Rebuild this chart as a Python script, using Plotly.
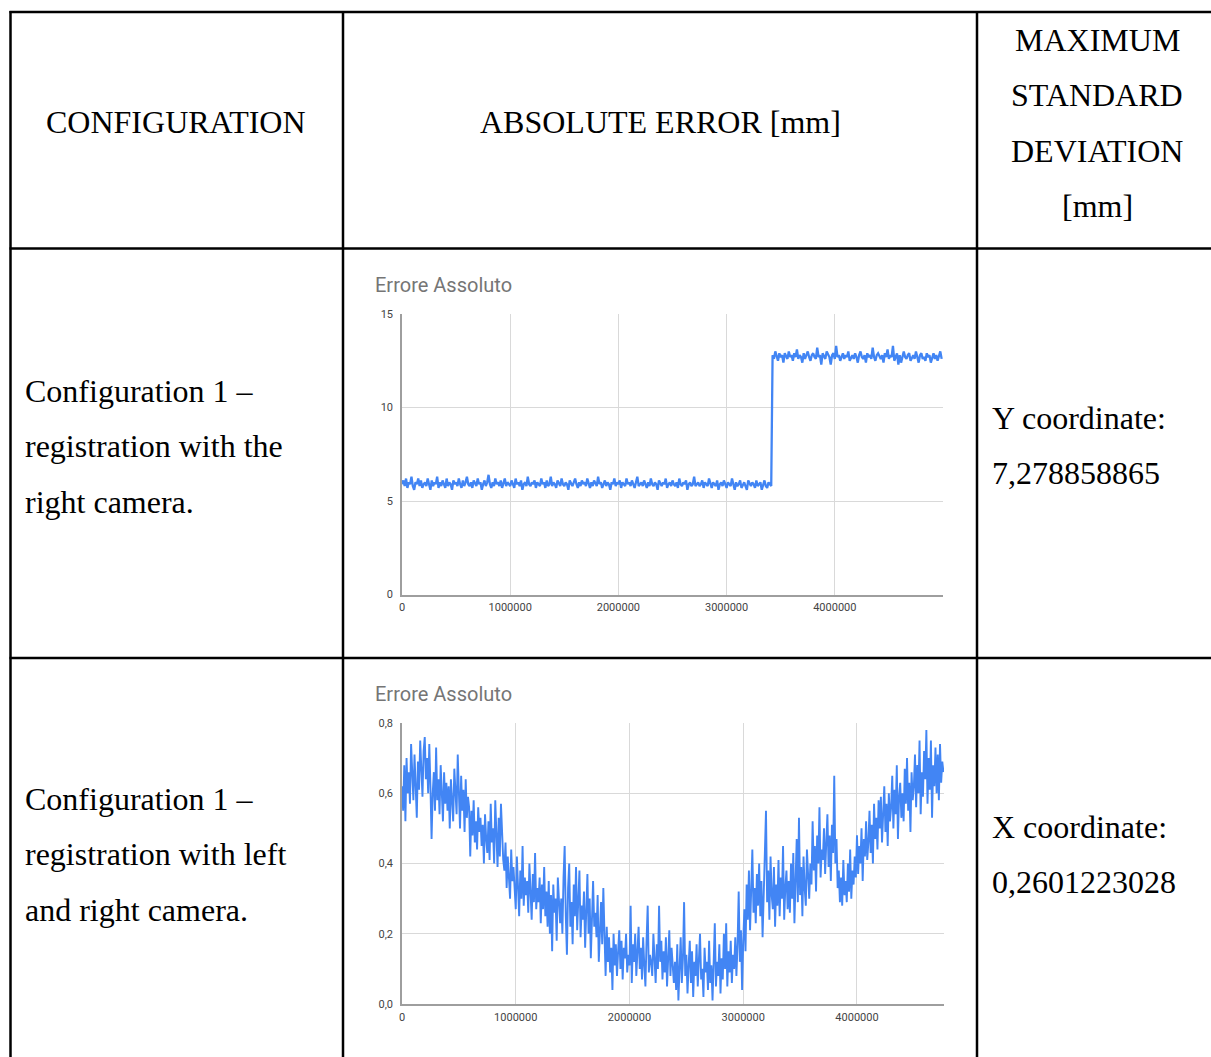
import plotly.graph_objects as go

# ---- page geometry (pixels) ----
W, H = 1211, 1057

def px(x):
    return x / W

def py(y):
    return 1 - y / H

# ---- table text ----
header_config = "CONFIGURATION"
header_error = "ABSOLUTE ERROR [mm]"
header_std = ["MAXIMUM", "STANDARD", "DEVIATION", "[mm]"]
row_labels = [
    ["Configuration 1 –", "registration with the", "right camera."],
    ["Configuration 1 –", "registration with left", "and right camera."],
]
row_std = [
    ["Y coordinate:", "7,278858865"],
    ["X coordinate:", "0,2601223028"],
]
chart_title = "Errore Assoluto"

# ---- chart 1: right camera, absolute error [mm], one sample every 12500 ----
STEP_1 = 12500
err_right = [
    5.9, 6.1, 5.8, 6.2, 5.7, 6.0, 5.9, 6.3, 5.8, 5.6, 6.0, 5.9, 6.2, 5.8, 6.1, 5.7, 5.9, 6.0, 5.8, 6.2,
    5.9, 5.6, 6.1, 5.8, 6.0, 5.9, 6.3, 5.7, 6.0, 5.8, 6.1, 5.9, 5.7, 6.2, 5.8, 6.0, 5.9, 5.6, 6.1, 5.9,
    6.0, 5.8, 6.2, 5.9, 5.7, 6.1, 5.8, 6.0, 6.3, 5.9, 5.8, 6.0, 5.7, 6.1, 5.9, 5.8, 6.2, 5.9, 6.0, 5.6,
    5.9, 6.1, 5.8, 6.0, 6.4, 5.9, 5.7, 6.0, 5.8, 6.2, 5.9, 6.0, 5.8, 6.1, 5.7, 5.9, 6.2, 5.8, 6.0, 5.9,
    5.8, 6.1, 5.9, 5.7, 6.2, 5.9, 6.0, 5.8, 6.1, 5.6, 5.9, 6.0, 5.8, 6.3, 5.9, 5.8, 6.0, 5.9, 6.1, 5.7,
    6.0, 5.9, 5.8, 6.2, 5.9, 6.0, 5.7, 6.1, 5.8, 5.9, 6.3, 5.8, 6.0, 5.9, 5.7, 6.1, 5.9, 5.8, 6.2, 5.9,
    5.8, 6.0, 5.9, 5.6, 6.1, 5.9, 5.8, 6.0, 6.2, 5.9, 5.7, 6.0, 5.8, 6.1, 5.9, 6.0, 5.8, 6.2, 5.9, 5.7,
    6.0, 5.8, 6.1, 5.9, 5.8, 6.3, 5.9, 6.0, 5.7, 5.9, 6.1, 5.8, 6.0, 5.9, 5.6, 6.0, 5.9, 6.2, 5.8, 6.0,
    5.9, 6.1, 5.7, 6.0, 5.9, 5.8, 6.2, 5.9, 6.0, 5.8, 6.1, 5.9, 5.7, 6.0, 6.3, 5.8, 5.9, 6.0, 5.8, 6.1,
    5.9, 5.7, 6.0, 5.8, 6.2, 5.9, 5.8, 6.0, 5.9, 5.6, 6.1, 5.9, 5.8, 6.0, 5.9, 6.2, 5.7, 5.9, 6.0, 5.8,
    6.1, 5.9, 5.8, 6.0, 5.7, 6.2, 5.9, 5.8, 6.0, 5.9, 6.1, 5.6, 5.9, 6.0, 5.8, 5.9, 6.3, 5.8, 5.9, 6.0,
    5.8, 5.9, 6.1, 5.7, 6.0, 5.9, 5.8, 6.2, 5.9, 5.7, 6.0, 5.9, 5.8, 6.1, 5.6, 5.9, 6.0, 5.8, 6.1, 5.9,
    5.7, 6.0, 5.9, 5.8, 6.2, 5.9, 5.6, 6.0, 5.8, 5.9, 6.1, 5.7, 5.9, 6.0, 5.8, 5.6, 6.1, 5.9, 5.8, 6.0,
    5.9, 5.7, 6.1, 5.8, 5.9, 6.0, 5.6, 5.9, 6.1, 5.8, 5.7, 6.0, 5.9, 5.8,
    12.8, 12.6, 13.0, 12.7, 12.5, 12.9, 12.7, 12.8, 12.4, 12.9, 12.7, 12.6, 13.0, 12.7, 12.8, 12.5, 12.9, 12.7, 13.1, 12.6,
    12.8, 12.7, 12.4, 12.9, 12.6, 12.8, 13.0, 12.7, 12.5, 12.8, 12.9, 12.7, 12.6, 13.2, 12.7, 12.8, 12.3, 12.9, 12.7, 12.6,
    13.0, 12.8, 12.7, 12.3, 12.8, 12.9, 12.6, 13.3, 12.7, 12.8, 12.5, 12.7, 12.9, 12.6, 12.8, 12.7, 13.0, 12.5, 12.7, 12.8,
    12.6, 12.9, 12.7, 12.4, 12.8, 13.0, 12.7, 12.6, 12.8, 12.4, 12.9, 12.7, 12.8, 12.6, 13.2, 12.7, 12.5, 12.8, 12.9, 12.7,
    12.6, 12.8, 12.4, 12.9, 12.7, 13.1, 12.6, 12.8, 12.7, 13.3, 12.5, 12.7, 12.9, 12.3, 12.8, 12.4, 12.7, 13.0, 12.7, 12.6,
    12.8, 12.9, 12.5, 12.7, 12.8, 12.6, 13.0, 12.7, 12.4, 12.8, 12.9, 12.6, 12.7, 12.5, 12.9, 12.7, 12.8, 12.4, 12.7, 12.9,
    12.6, 12.8, 12.5, 12.7, 13.0, 12.6,
]
samples_right = [i * STEP_1 for i in range(len(err_right))]
x_ticks_1 = [0, 1000000, 2000000, 3000000, 4000000, 5000000]
x_labels_1 = ["0", "1000000", "2000000", "3000000", "4000000", ""]

# ---- chart 2: left + right camera, absolute error [mm], one sample every 10000 ----
STEP_2 = 10000
err_both = [
    0.62, 0.55, 0.68, 0.52, 0.70, 0.60, 0.66, 0.57, 0.74, 0.63,
    0.58, 0.71, 0.64, 0.53, 0.69, 0.61, 0.75, 0.66, 0.59, 0.72,
    0.76, 0.64, 0.70, 0.60, 0.74, 0.62, 0.47, 0.60, 0.66, 0.55,
    0.73, 0.58, 0.64, 0.54, 0.68, 0.60, 0.52, 0.66, 0.57, 0.63,
    0.55, 0.62, 0.50, 0.64, 0.57, 0.52, 0.67, 0.58, 0.54, 0.71,
    0.60, 0.50, 0.65, 0.55, 0.61, 0.49, 0.64, 0.53, 0.59, 0.56,
    0.42, 0.55, 0.48, 0.58, 0.46, 0.52, 0.44, 0.56, 0.49, 0.53,
    0.45, 0.51, 0.40, 0.54, 0.47, 0.43, 0.52, 0.41, 0.57, 0.46,
    0.50, 0.40, 0.58, 0.44, 0.39, 0.53, 0.42, 0.57, 0.45, 0.41,
    0.38, 0.46, 0.33, 0.42, 0.36, 0.30, 0.44, 0.35, 0.39, 0.31,
    0.27, 0.42, 0.33, 0.25, 0.38, 0.30, 0.45, 0.28, 0.36, 0.31,
    0.35, 0.26, 0.40, 0.30, 0.24, 0.37, 0.29, 0.43, 0.27, 0.33,
    0.29, 0.36, 0.23, 0.34, 0.27, 0.39, 0.25, 0.32, 0.22, 0.35,
    0.20, 0.31, 0.15, 0.34, 0.26, 0.30, 0.18, 0.36, 0.28, 0.23,
    0.30, 0.20, 0.36, 0.45, 0.25, 0.14, 0.33, 0.40, 0.22, 0.29,
    0.17, 0.34, 0.25, 0.39, 0.21, 0.31, 0.38, 0.19, 0.28, 0.24,
    0.32, 0.16, 0.28, 0.37, 0.20, 0.30, 0.13, 0.27, 0.35, 0.22,
    0.26, 0.19, 0.31, 0.12, 0.24, 0.29, 0.17, 0.33, 0.20, 0.08,
    0.22, 0.12, 0.19, 0.09, 0.16, 0.04, 0.20, 0.11, 0.17, 0.08,
    0.15, 0.21, 0.10, 0.18, 0.07, 0.16, 0.13, 0.20, 0.09, 0.14,
    0.11, 0.28, 0.06, 0.17, 0.12, 0.20, 0.08, 0.15, 0.22, 0.10,
    0.16, 0.07, 0.19, 0.11, 0.05, 0.18, 0.28, 0.09, 0.14, 0.12,
    0.08, 0.20, 0.13, 0.06, 0.17, 0.10, 0.28, 0.12, 0.18, 0.07,
    0.15, 0.09, 0.19, 0.05, 0.13, 0.21, 0.08, 0.16, 0.11, 0.06,
    0.12, 0.04, 0.17, 0.01, 0.10, 0.19, 0.06, 0.13, 0.29, 0.08,
    0.14, 0.03, 0.11, 0.18, 0.06, 0.15, 0.02, 0.12, 0.08, 0.17,
    0.05, 0.13, 0.20, 0.07, 0.10, 0.02, 0.16, 0.09, 0.12, 0.04,
    0.18, 0.06, 0.11, 0.01, 0.14, 0.23, 0.05, 0.12, 0.08, 0.17,
    0.03, 0.13, 0.07, 0.20, 0.10, 0.23, 0.05, 0.15, 0.09, 0.18,
    0.06, 0.14, 0.10, 0.19, 0.08, 0.17, 0.32, 0.12, 0.21, 0.04,
    0.18, 0.27, 0.15, 0.34, 0.24, 0.38, 0.21, 0.30, 0.44, 0.26,
    0.33, 0.23, 0.37, 0.28, 0.40, 0.25, 0.35, 0.19, 0.31, 0.36,
    0.55, 0.29, 0.38, 0.24, 0.42, 0.31, 0.27, 0.39, 0.22, 0.34,
    0.28, 0.41, 0.25, 0.36, 0.30, 0.45, 0.24, 0.33, 0.38, 0.27,
    0.35, 0.26, 0.40, 0.30, 0.43, 0.23, 0.34, 0.47, 0.29, 0.53,
    0.31, 0.39, 0.25, 0.42, 0.33, 0.28, 0.44, 0.36, 0.30, 0.40,
    0.34, 0.52, 0.38, 0.45, 0.32, 0.48, 0.40, 0.56, 0.36, 0.44,
    0.41, 0.50, 0.37, 0.46, 0.54, 0.39, 0.48, 0.35, 0.51, 0.43,
    0.65, 0.40, 0.47, 0.33, 0.38, 0.29, 0.36, 0.28, 0.41, 0.31,
    0.35, 0.29, 0.40, 0.32, 0.44, 0.30, 0.38, 0.34, 0.42, 0.36,
    0.48, 0.37, 0.45, 0.40, 0.50, 0.35, 0.47, 0.42, 0.52, 0.41,
    0.46, 0.55, 0.43, 0.51, 0.40, 0.57, 0.47, 0.53, 0.44, 0.58,
    0.50, 0.59, 0.46, 0.54, 0.62, 0.49, 0.57, 0.45, 0.60, 0.52,
    0.56, 0.65, 0.50, 0.61, 0.54, 0.68, 0.47, 0.59, 0.63, 0.53,
    0.60, 0.52, 0.67, 0.57, 0.70, 0.55, 0.63, 0.49, 0.66, 0.58,
    0.62, 0.71, 0.56, 0.68, 0.60, 0.75, 0.54, 0.66, 0.59, 0.72,
    0.64, 0.78, 0.57, 0.70, 0.61, 0.75, 0.53, 0.68, 0.62, 0.73,
    0.60, 0.71, 0.58, 0.74, 0.63, 0.69, 0.66,
]
samples_both = [i * STEP_2 for i in range(len(err_both))]

BLUE = "#4285F4"
GRID = "#d9d9d9"
BASE = "#9e9e9e"
TICK_FONT = dict(family="Roboto, Arial, sans-serif", size=11, color="#444444")
SERIF = "Liberation Serif, Times New Roman, serif"

fig = go.Figure()
fig.add_trace(go.Scatter(x=samples_right, y=err_right, mode="lines",
                         line=dict(color=BLUE, width=2.3), xaxis="x", yaxis="y",
                         showlegend=False, hoverinfo="x+y"))
fig.add_trace(go.Scatter(x=samples_both, y=err_both, mode="lines",
                         line=dict(color=BLUE, width=1.9), xaxis="x2", yaxis="y2",
                         showlegend=False, hoverinfo="x+y"))

common_x = dict(showgrid=True, gridcolor=GRID, gridwidth=1, zeroline=False,
                showline=True, linecolor=BASE, linewidth=1.5, ticklabelstandoff=2,
                tickfont=TICK_FONT, ticks="", fixedrange=True, automargin=False)
common_y = dict(showgrid=True, gridcolor=GRID, gridwidth=1, zeroline=False,
                showline=True, linecolor=BASE, linewidth=1.5, tickfont=TICK_FONT,
                ticklabelstandoff=5, ticks="", fixedrange=True, automargin=False)

fig.update_layout(
    width=W, height=H, autosize=False,
    margin=dict(l=0, r=0, t=0, b=0, pad=0, autoexpand=False),
    paper_bgcolor="white", plot_bgcolor="white",
    separators=",.",
    xaxis=dict(domain=[px(402), px(943)], range=[0, 5000000], anchor="y",
               tickmode="array", tickvals=x_ticks_1, ticktext=x_labels_1, **common_x),
    yaxis=dict(domain=[py(594.5), py(314)], range=[0, 15], dtick=5, tickformat="d",
               anchor="x", **common_y),
    xaxis2=dict(domain=[px(402), px(944)], range=[0, 4765000], anchor="y2",
                dtick=1000000, tick0=0, tickformat="d", **common_x),
    yaxis2=dict(domain=[py(1004), py(723)], range=[0, 0.8], dtick=0.2, tickformat=".1f",
                anchor="x2", **common_y),
)

# ---- table borders ----
line_style = dict(color="black", width=2.5)
for x in (10.5, 343, 977):
    fig.add_shape(type="line", xref="paper", yref="paper",
                  x0=px(x), x1=px(x), y0=py(11), y1=py(H + 5), line=line_style)
for y in (12, 248.5, 658):
    fig.add_shape(type="line", xref="paper", yref="paper",
                  x0=px(9.5), x1=px(W + 5), y0=py(y), y1=py(y), line=line_style)

def text(s, x, y, anchor="left", size=32, family=SERIF, color="black"):
    fig.add_annotation(text=s, x=px(x), y=py(y), xref="paper", yref="paper",
                       xanchor=anchor, yanchor="middle", showarrow=False,
                       font=dict(family=family, size=size, color=color))

# header row
text(header_config, 176, 122, anchor="center")
text(header_error, 660, 122, anchor="center")
for i, s in enumerate(header_std):
    text(s, 1097, 40 + i * 55.3, anchor="center")

# body rows
row_top = [391, 799]
std_top = [418, 827]
for r in range(2):
    for i, s in enumerate(row_labels[r]):
        text(s, 23, row_top[r] + i * 55.3)
    for i, s in enumerate(row_std[r]):
        text(s, 989.5, std_top[r] + i * 55.3)

# chart titles
for y in (285, 694):
    text(chart_title, 373, y, size=20, family="Roboto, Arial, sans-serif", color="#757575")

fig.write_html(
    "out.html",
    config={"displayModeBar": False, "responsive": False},
    post_script="document.body.style.margin='0';document.body.style.overflow='hidden';",
)
